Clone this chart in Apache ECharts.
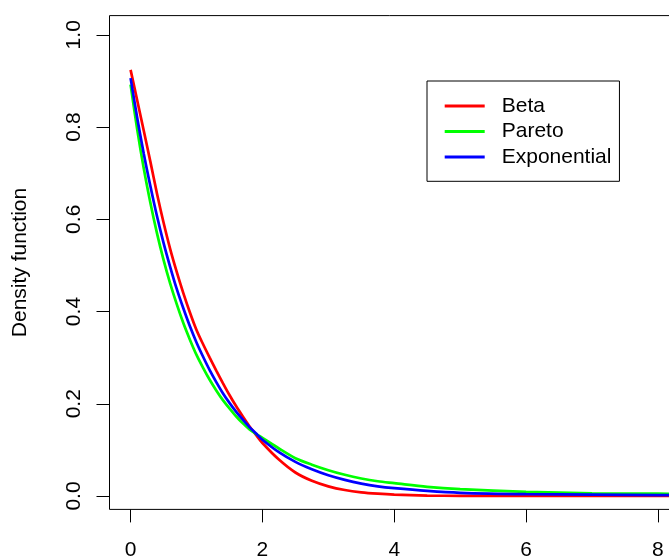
<!DOCTYPE html>
<html>
<head>
<meta charset="utf-8">
<script src="https://cdn.jsdelivr.net/npm/echarts@6/dist/echarts.min.js"></script>
<style>
html,body{margin:0;padding:0;background:#fff;}
#chart{width:669px;height:556px;}
</style>
</head>
<body>
<div id="chart"></div>
<script>
// values
var xValues = [0, 0.1, 0.2, 0.3, 0.4, 0.5, 0.6, 0.7, 0.8, 0.9, 1.0, 1.1, 1.2, 1.3, 1.4, 1.5, 1.6, 1.7, 1.8, 1.9, 2.0, 2.25, 2.5, 2.75, 3.0, 3.25, 3.5, 3.75, 4.0, 4.5, 5.0, 6.0, 7.0, 8.0, 8.4];
var betaValues = [0.924, 0.858, 0.792, 0.725, 0.656, 0.593, 0.536, 0.486, 0.440, 0.398, 0.360, 0.329, 0.300, 0.272, 0.245, 0.219, 0.195, 0.173, 0.152, 0.133, 0.115, 0.079, 0.051, 0.033, 0.021, 0.013, 0.008, 0.005, 0.003, 0.001, 0.0004, 0.0001, 0, 0, 0];
var paretoValues = [0.892, 0.795, 0.710, 0.636, 0.570, 0.512, 0.461, 0.416, 0.375, 0.339, 0.306, 0.278, 0.252, 0.229, 0.208, 0.190, 0.173, 0.158, 0.145, 0.135, 0.126, 0.103, 0.082, 0.068, 0.056, 0.046, 0.038, 0.032, 0.028, 0.020, 0.015, 0.009, 0.006, 0.005, 0.004];
var exponentialValues = [0.906, 0.820, 0.742, 0.672, 0.607, 0.549, 0.497, 0.449, 0.407, 0.368, 0.333, 0.302, 0.273, 0.247, 0.223, 0.202, 0.183, 0.166, 0.150, 0.136, 0.122, 0.095, 0.074, 0.058, 0.045, 0.035, 0.027, 0.021, 0.017, 0.011, 0.007, 0.004, 0.003, 0.002, 0.002];
var seriesNames = ['Beta', 'Pareto', 'Exponential'];
var seriesColors = ['#ff0000', '#00ff00', '#0000ff'];
var xTicks = [0, 2, 4, 6, 8];
var yTicks = [0, 0.2, 0.4, 0.6, 0.8, 1.0];
var yTitle = 'Density function';

function pairs(vals) {
  return xValues.map(function (x, i) { return [x, vals[i]]; });
}
var allValues = [betaValues, paretoValues, exponentialValues];
var FONT = 'Liberation Sans, Arial, Helvetica, sans-serif';

var chart = echarts.init(document.getElementById('chart'), null, {renderer: 'canvas'});
chart.setOption({
  animation: false,
  backgroundColor: '#fff',
  grid: {
    left: 109.5, top: 15.6, right: -10, bottom: 46.6,
    containLabel: false, outerBoundsMode: 'none',
    show: true, borderColor: '#000', borderWidth: 1, backgroundColor: 'transparent'
  },
  legend: {
    orient: 'vertical',
    left: 427, top: 81,
    padding: [14.5, 8, 13.8, 17.7],
    itemGap: 4.5,
    itemWidth: 40, itemHeight: 3,
    icon: 'rect',
    borderColor: '#000', borderWidth: 1,
    textStyle: {fontFamily: FONT, fontSize: 21, lineHeight: 21, color: '#000', padding: [0, 0, 0, 12]},
    data: seriesNames
  },
  xAxis: {
    type: 'value', min: -0.32, max: 8.32,
    axisLine: {show: false, onZero: false},
    splitLine: {show: false},
    axisTick: {show: true, length: 13, lineStyle: {color: '#000', width: 1}, customValues: xTicks},
    axisLabel: {customValues: xTicks, margin: 30, fontFamily: FONT, fontSize: 21, lineHeight: 21, color: '#000'}
  },
  yAxis: {
    type: 'value', min: -0.029, max: 1.0416,
    name: yTitle, nameLocation: 'middle', nameGap: 79,
    nameTextStyle: {fontFamily: FONT, fontSize: 21, lineHeight: 21, color: '#000'},
    axisLine: {show: false, onZero: false},
    splitLine: {show: false},
    axisTick: {show: true, length: 13, lineStyle: {color: '#000', width: 1}, customValues: yTicks},
    axisLabel: {
      customValues: yTicks, rotate: 90, margin: 25,
      fontFamily: FONT, fontSize: 21, lineHeight: 21, color: '#000',
      formatter: function (v) { return v.toFixed(1); }
    }
  },
  series: seriesNames.map(function (n, i) {
    return {
      name: n, type: 'line', data: pairs(allValues[i]),
      showSymbol: false, symbol: 'none',
      smooth: 0.3,
      lineStyle: {color: seriesColors[i], width: 2.7},
      itemStyle: {color: seriesColors[i]},
      clip: true
    };
  })
});
</script>
</body>
</html>
